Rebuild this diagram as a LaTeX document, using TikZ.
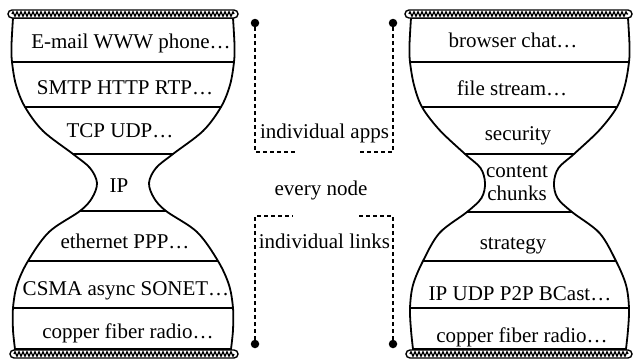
\documentclass[tikz,border=0pt]{standalone}
\usepackage{fontspec}
\setmainfont{Liberation Serif}
\usetikzlibrary{decorations.pathmorphing}
\begin{document}
\begin{tikzpicture}[x=1pt,y=-1pt,
  lbl/.style={anchor=base, inner sep=0pt, font=\fontsize{21}{24}\selectfont},
  glass/.style={line width=1.8pt},
  sep/.style={line width=1.6pt},
  bar/.style={line width=1.4pt, rounded corners=4pt, fill=white},
  zz/.style={line width=1.3pt, decorate, decoration={zigzag, segment length=4pt, amplitude=2.2pt}},
  conn/.style={line width=1.6pt, dash pattern=on 4pt off 3pt},
  dot/.style={circle, fill=black, inner sep=0pt, minimum size=8.5pt}]
\useasboundingbox (0,0) rectangle (633,359);

% left glass
\path[save path=\glassL, shift={(123,0)}]
  plot[smooth, tension=0.55] coordinates {(-110,18) (-111.5,45) (-111,62) (-107,85) (-98,107) (-80,131) (-50,154) (-33,168) (-26,183) (-31,198) (-43,211) (-74,232) (-95,261) (-106,285) (-110,308) (-110,330) (-108,349)}
  -- plot[smooth, tension=0.55] coordinates {(108,349) (110,330) (110,308) (106,285) (95,261) (74,232) (43,211) (31,198) (26,183) (33,168) (50,154) (80,131) (98,107) (107,85) (111,62) (111.5,45) (110,18)}
  -- cycle;
% right glass
\path[save path=\glassR, shift={(519.5,0)}]
  plot[smooth, tension=0.55] coordinates {(-108.5,18) (-110,45) (-109.5,62) (-105.5,85) (-97.5,107) (-80,130) (-54.5,154) (-39,168) (-34.5,183) (-38,198) (-52.5,212) (-80,233) (-96.5,261) (-106.5,285) (-109.5,308) (-108.5,330) (-106.5,349)}
  -- plot[smooth, tension=0.55] coordinates {(106.5,349) (108.5,330) (109.5,308) (106.5,285) (96.5,261) (80,233) (52.5,212) (38,198) (34.5,183) (39,168) (54.5,154) (80,130) (97.5,107) (105.5,85) (109.5,62) (110,45) (108.5,18)}
  -- cycle;

\begin{scope}
  \path[use path=\glassL, clip];
  \foreach \y in {62,107,154,211,261,308} \draw[sep] (0,\y) -- (250,\y);
\end{scope}
\begin{scope}
  \path[use path=\glassR, clip];
  \foreach \y in {62,107,154,212,261,308} \draw[sep] (395,\y) -- (633,\y);
\end{scope}
\draw[glass, use path=\glassL];
\draw[glass, use path=\glassR];

% bars
\draw[bar] (8,10) rectangle (238,18);   \draw[zz] (12,14) -- (234,14);
\draw[bar] (10,350) rectangle (238,358); \draw[zz] (14,354) -- (234,354);
\draw[bar] (405,10) rectangle (632,18);  \draw[zz] (409,14) -- (628,14);
\draw[bar] (406,350) rectangle (632,358); \draw[zz] (410,354) -- (628,354);

% left texts
\node[lbl] (l1) at (131,48) {E-mail WWW phone…};
\node[lbl] (l2) at (125,94) {SMTP HTTP RTP…};
\node[lbl] (l3) at (120,137) {TCP UDP…};
\node[lbl] (l4) at (119,192) {IP};
\node[lbl] (l5) at (125,248) {ethernet PPP…};
\node[lbl] (l6) at (126,295) {CSMA async SONET…};
\node[lbl] (l7) at (128,338) {copper fiber radio…};

% right texts
\node[lbl] (r1) at (513,47) {browser chat…};
\node[lbl] (r2) at (512,95) {file stream…};
\node[lbl] (r3) at (518,140) {security};
\node[lbl] (r4a) at (517,177) {content};
\node[lbl] (r4b) at (517,200) {chunks};
\node[lbl] (r5) at (513,249) {strategy};
\node[lbl] (r6) at (520,300) {IP UDP P2P BCast…};
\node[lbl] (r7) at (522,342) {copper fiber radio…};

% middle
\node[lbl] (m1) at (324.5,138) {individual apps};
\node[lbl] (m2) at (321,195) {every node};
\node[lbl] (m3) at (324.5,248) {individual links};

\node[dot] (d1) at (255,23) {};
\node[dot] (d2) at (393,23) {};
\node[dot] (d3) at (255,344) {};
\node[dot] (d4) at (393,344) {};
\coordinate (e1) at (297,152);
\coordinate (e2) at (358,152);
\coordinate (e3) at (293,216);
\coordinate (e4) at (358,216);
\draw[conn] (d1) |- (e1);
\draw[conn] (d2) |- (e2);
\draw[conn] (d3) |- (e3);
\draw[conn] (d4) |- (e4);
\end{tikzpicture}
\end{document}
